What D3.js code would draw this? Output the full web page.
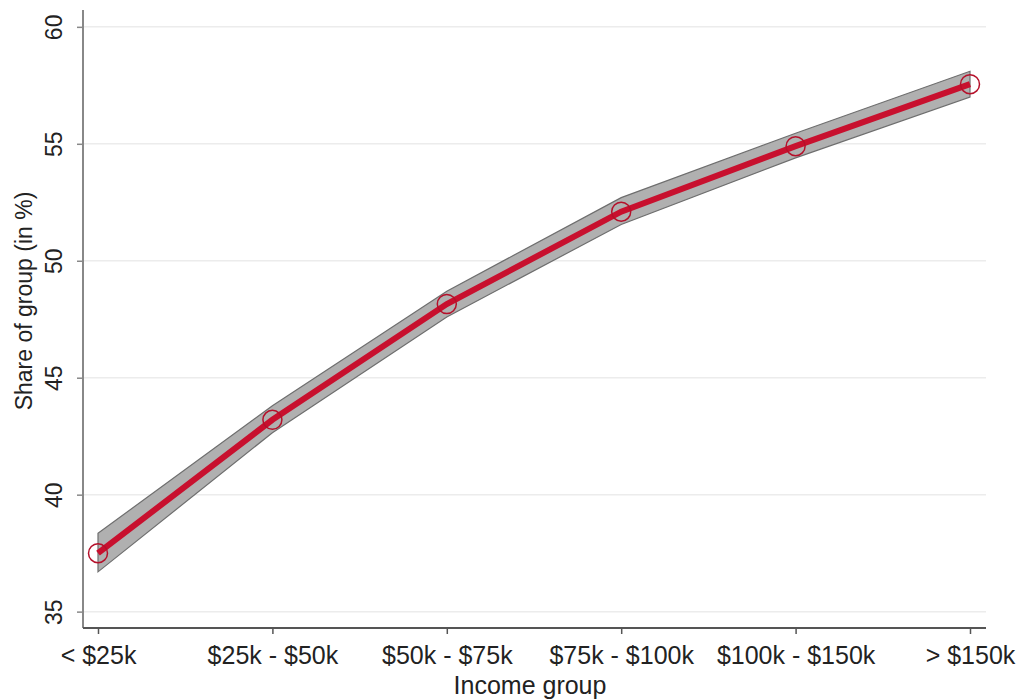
<!DOCTYPE html>
<html lang="en">
<head>
<meta charset="UTF-8">
<title>Share of group by income</title>
<script src="https://d3js.org/d3.v7.min.js"></script>
<style>
  body { margin: 0; background: #fff; font-family: "Liberation Sans", Arial, sans-serif; }
  .tick text { fill: #222; }
</style>
</head>
<body>
<svg width="1021" height="700"></svg>
<script>
const categories = ["< $25k", "$25k - $50k", "$50k - $75k", "$75k - $100k", "$100k - $150k", "> $150k"];
const shares = [37.5, 43.2, 48.15, 52.1, 54.9, 57.55];
const ciLow = [36.7, 42.65, 47.6, 51.55, 54.4, 57.0];
const ciHigh = [38.35, 43.8, 48.7, 52.7, 55.45, 58.1];
const yTicks = [35, 40, 45, 50, 55, 60];

const svg = d3.select("svg");
const plotLeft = 83, plotRight = 986, plotTop = 10, plotBottom = 628;

const x = d3.scalePoint().domain(categories).range([98, 970]);
const y = d3.scaleLinear().domain([34.3, 60.72]).range([plotBottom, plotTop]);

// grid
svg.append("g").selectAll("line").data(yTicks).join("line")
  .attr("x1", plotLeft).attr("x2", plotRight)
  .attr("y1", d => y(d)).attr("y2", d => y(d))
  .attr("stroke", "#ececec").attr("stroke-width", 1.5);

// y axis
const ya = svg.append("g").attr("transform", `translate(${plotLeft},0)`)
  .call(d3.axisLeft(y).tickValues(yTicks).tickSize(6).tickPadding(6));
ya.select(".domain").attr("stroke", "#888").attr("stroke-width", 2).attr("d", `M0,${plotTop}V${plotBottom}`);
ya.selectAll(".tick line").attr("stroke", "#888").attr("stroke-width", 1.5);
ya.selectAll(".tick text")
  .attr("transform", "rotate(-90)")
  .attr("x", 0).attr("y", -21)
  .attr("text-anchor", "middle").attr("dy", 0)
  .attr("font-size", 23);

// x axis
const xa = svg.append("g").attr("transform", `translate(0,${plotBottom})`)
  .call(d3.axisBottom(x).tickSize(6).tickPadding(6));
xa.select(".domain").attr("stroke", "#555").attr("stroke-width", 2).attr("d", `M${plotLeft},0H${plotRight}`);
xa.selectAll(".tick line").attr("stroke", "#555").attr("stroke-width", 1.5);
xa.selectAll(".tick text").attr("y", 36).attr("dy", 0).attr("font-size", 25);

// titles
svg.append("text").attr("transform", "translate(32,301) rotate(-90)")
  .attr("text-anchor", "middle").attr("font-size", 23).attr("fill", "#222")
  .text("Share of group (in %)");
svg.append("text").attr("x", 530).attr("y", 694)
  .attr("text-anchor", "middle").attr("font-size", 25).attr("fill", "#222")
  .text("Income group");

// confidence band
const band = d3.area()
  .x((d, i) => x(categories[i]))
  .y0((d, i) => y(ciLow[i]))
  .y1((d, i) => y(ciHigh[i]));
svg.append("path").datum(shares).attr("d", band)
  .attr("fill", "#b0b0b0").attr("stroke", "#6e6e6e").attr("stroke-width", 1.2);

// line
const line = d3.line().x((d, i) => x(categories[i])).y(d => y(d));
svg.append("path").datum(shares).attr("d", line)
  .attr("fill", "none").attr("stroke", "#c8102e").attr("stroke-width", 6);

// markers
svg.append("g").selectAll("circle").data(shares).join("circle")
  .attr("cx", (d, i) => x(categories[i])).attr("cy", d => y(d))
  .attr("r", 9.5).attr("fill", "none").attr("stroke", "#b5102a").attr("stroke-width", 1.5);
</script>
</body>
</html>
